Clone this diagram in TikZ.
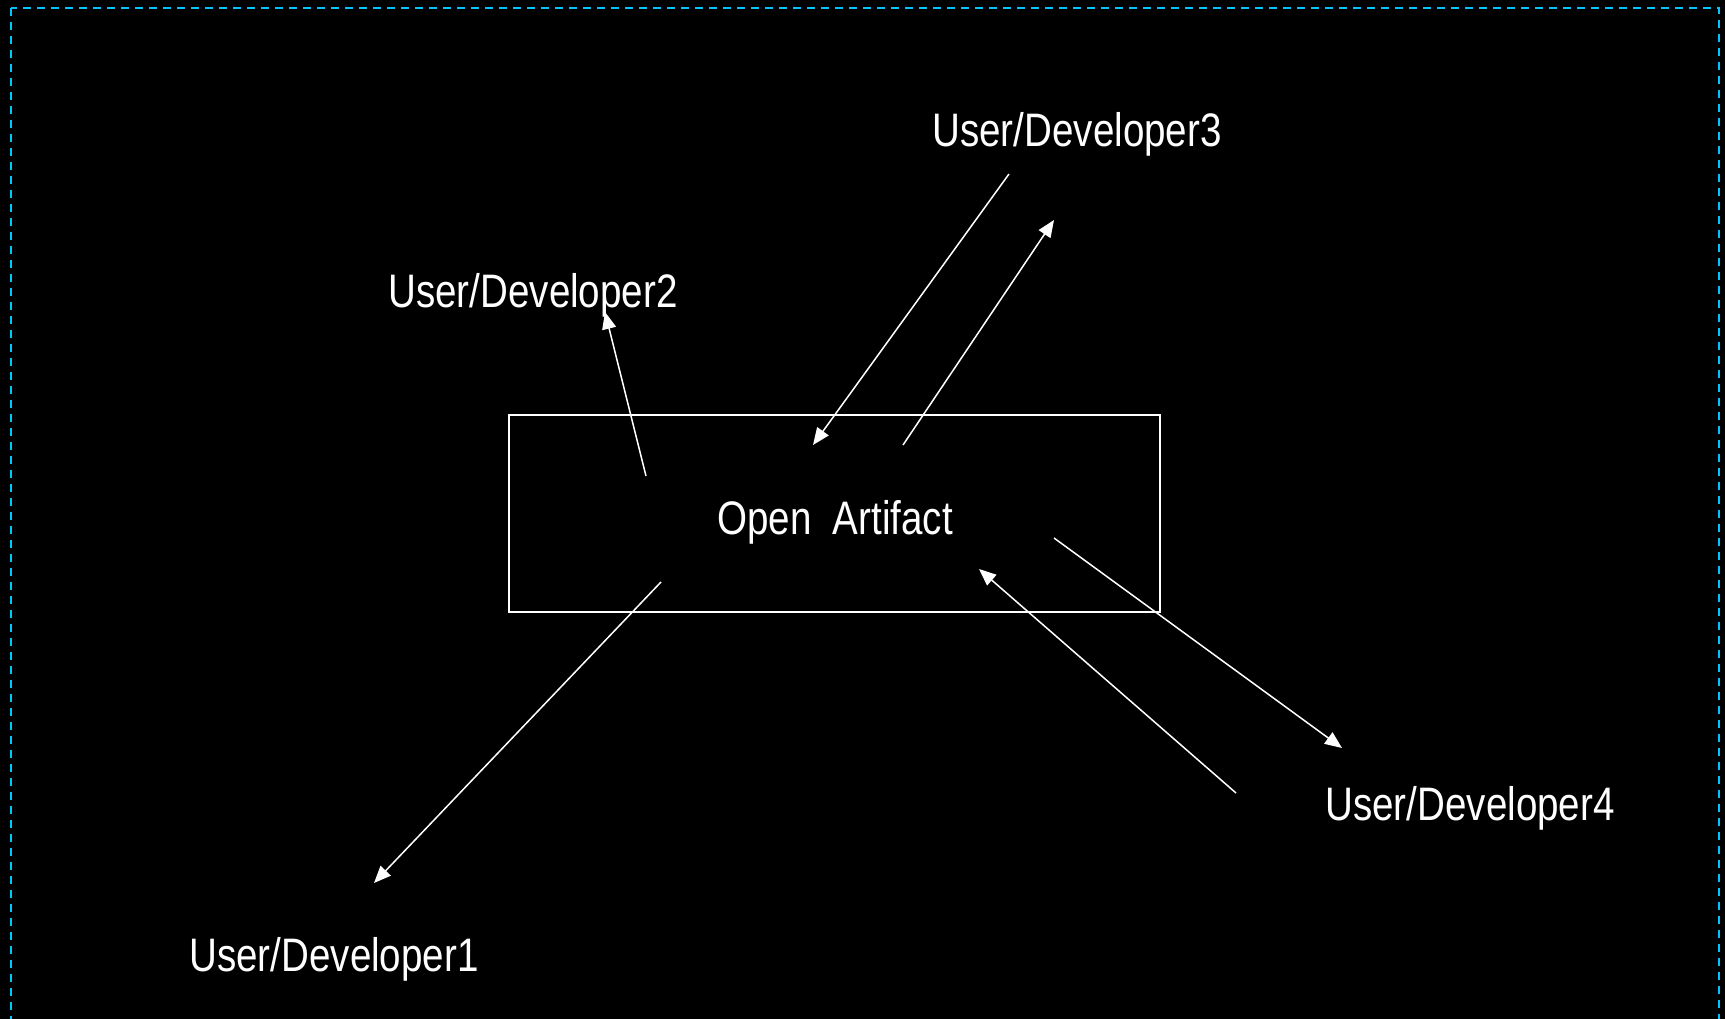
\documentclass[tikz,border=0pt]{standalone}
\usepackage{fontspec}
\setmainfont[FakeStretch=0.82]{Liberation Sans}
\usetikzlibrary{arrows.meta}
\definecolor{framecyan}{RGB}{0,200,255}
\begin{document}
\begin{tikzpicture}[x=1pt,y=-1pt]
		\tikzset{devtext/.style = {text=white,font=\fontsize{47}{56}\selectfont,inner sep=0pt,anchor=base}}
		\tikzset{flow/.style = {->,> = {Triangle[length=17pt,width=14pt]},white,line width=1.5pt}}
		\fill[black] (0,0) rectangle (1725,1019);
		\useasboundingbox (0,0) rectangle (1725,1019);
		\clip (0,0) rectangle (1725,1019);
		\draw[framecyan,line width=2.2pt,dash pattern=on 8pt off 6pt] (11,8) rectangle (1719,1040);
		\draw[white,line width=1.3pt] (509,415) rectangle (1160,612);
		\node[devtext] (art) at (835,534) {Open\ \ Artifact};
		\node[devtext] (dev1) at (334,971) {User/Developer1};
		\node[devtext] (dev2) at (533,307) {User/Developer2};
		\node[devtext] (dev3) at (1077,147) {User/Developer3};
		\node[devtext] (dev4) at (1470,820) {User/Developer4};
		\coordinate (a1) at (661,582);  \coordinate (d1) at (374,883);
		\coordinate (a2) at (646,476);  \coordinate (d2) at (605,312);
		\coordinate (d3i) at (1009,174); \coordinate (a3i) at (813,445);
		\coordinate (a3o) at (903,445); \coordinate (d3o) at (1054,220);
		\coordinate (a4o) at (1054,538); \coordinate (d4o) at (1342,748);
		\coordinate (d4i) at (1236,793); \coordinate (a4i) at (979,569);
		\draw[flow] (a1) -- (d1);
		\draw[flow] (a2) -- (d2);
		\draw[flow] (d3i) -- (a3i);
		\draw[flow] (a3o) -- (d3o);
		\draw[flow] (a4o) -- (d4o);
		\draw[flow] (d4i) -- (a4i);
	\end{tikzpicture}
\end{document}
